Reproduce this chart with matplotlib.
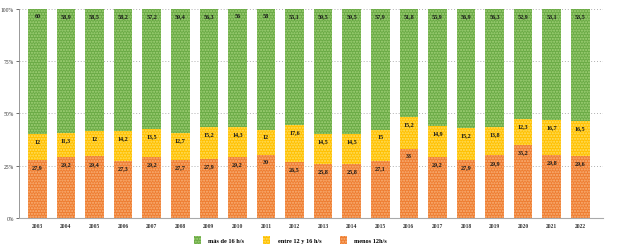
import numpy as np
import matplotlib
matplotlib.use("Agg")
import matplotlib.pyplot as plt
from matplotlib.ticker import FuncFormatter

plt.rcParams['font.family'] = ['Liberation Serif', 'DejaVu Serif']

# Data
years = [str(y) for y in range(2003, 2023)]
menos_12 = [27.9, 29.2, 29.4, 27.3, 29.2, 27.7, 27.9, 29.2, 30, 26.5,
            25.8, 25.8, 27.1, 33, 29.2, 27.9, 29.9, 35.2, 29.8, 29.6]
entre_12_16 = [12, 11.3, 12, 14.2, 13.5, 12.7, 15.2, 14.3, 12, 17.6,
               14.5, 14.5, 15, 15.2, 14.9, 15.2, 13.8, 12.3, 16.7, 16.5]
mas_16 = [60, 58.9, 58.5, 58.2, 57.2, 59.4, 56.3, 56, 58, 55.1,
          59.5, 59.5, 57.9, 51.8, 55.9, 56.9, 56.3, 52.9, 53.1, 53.5]

series = [
    ("menos 12h/s", menos_12, "#EE7D31", "#F9B27A"),
    ("entre 12 y 16 h/s", entre_12_16, "#FFC000", "#FFE066"),
    ("más de 16 h/s", mas_16, "#6AAA45", "#A3D27A"),
]

fig = plt.figure(figsize=(6.25, 2.51), dpi=100)
ax = fig.add_axes([0.031, 0.128, 0.934, 0.832])

x = np.arange(len(years))
totals = np.array(menos_12) + np.array(entre_12_16) + np.array(mas_16)
bottom = np.zeros(len(years))
handles = {}
for name, vals, col, dot in series:
    share = np.array(vals) / totals * 100
    bars = ax.bar(x, share, 0.65, bottom=bottom, color=col, edgecolor=dot,
                  linewidth=0, hatch='......', zorder=2)
    handles[name] = bars
    for xi, b, s, v in zip(x, bottom, share, vals):
        lbl = ('%g' % v).replace('.', ',')
        ax.text(xi, b + s - 3.2, lbl, ha='center', va='center',
                fontsize=4.4, fontweight='bold', color='#1a1a1a', zorder=3)
    bottom += share

ax.set_xlim(-0.63, 19.8)
ax.set_ylim(0, 100)
ax.set_yticks([0, 25, 50, 75, 100])
ax.yaxis.set_major_formatter(FuncFormatter(lambda v, p: '%d%%' % v))
ax.set_xticks(x)
ax.set_xticklabels(years, fontweight='bold')
ax.tick_params(axis='both', labelsize=4, length=2, width=0.5, colors='#333333', pad=2)
ax.tick_params(axis='x', length=0, pad=4)
ax.grid(axis='y', linestyle=(0, (1, 2)), color='#b0b0b0', linewidth=0.7, zorder=0)
for s in ['top', 'right']:
    ax.spines[s].set_visible(False)
ax.spines['left'].set_color('#888888')
ax.spines['left'].set_linewidth(0.6)
ax.spines['left'].set_linestyle((0, (1, 1)))
ax.spines['bottom'].set_color('#aaaaaa')
ax.spines['bottom'].set_linewidth(0.8)

order = ["más de 16 h/s", "entre 12 y 16 h/s", "menos 12h/s"]
fig.legend([handles[n] for n in order], order, loc='center',
           bbox_to_anchor=(0.465, 0.04), ncol=3, frameon=False,
           handlelength=1.1, handleheight=1.5,
           columnspacing=3.0, handletextpad=1.2,
           prop={'weight': 'bold', 'size': 4.5})

fig.savefig("out.png", dpi=100)
